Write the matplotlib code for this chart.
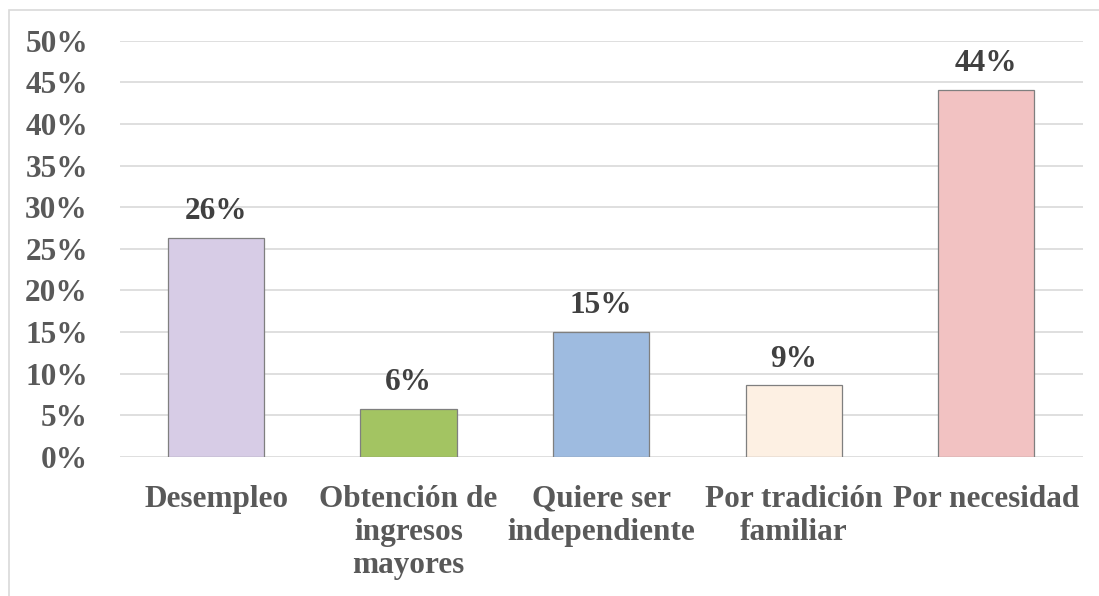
import matplotlib.pyplot as plt
from matplotlib.patches import Rectangle
from matplotlib.ticker import FuncFormatter

categorias = ['Desempleo', 'Obtención de\ningresos\nmayores', 'Quiere ser\nindependiente',
              'Por tradición\nfamiliar', 'Por necesidad']
valores = [0.263, 0.058, 0.150, 0.086, 0.441]
etiquetas = ['26%', '6%', '15%', '9%', '44%']
colores = ['#D7CCE6', '#A3C462', '#9EBBE0', '#FDF0E3', '#F2C2C2']

plt.rcParams['font.family'] = ['Liberation Serif', 'DejaVu Serif']
gris = '#595959'
fs = 22.5

fig = plt.figure(figsize=(10.99, 5.96), dpi=100)
fig.patches.append(Rectangle((0.008, -0.01), 1.0, 0.993, transform=fig.transFigure,
                             fill=False, edgecolor='#D9D9D9', linewidth=1.2))
ax = fig.add_axes([0.109, 0.233, 0.876, 0.699])

x = range(len(categorias))
bars = ax.bar(x, valores, width=0.5, color=colores, edgecolor='#7f7f7f', linewidth=0.9, zorder=3)

for b, t in zip(bars, etiquetas):
    ax.text(b.get_x() + b.get_width() / 2, b.get_height() + 0.014, t,
            ha='center', va='bottom', fontsize=fs, fontweight='bold', color='#404040')

ax.set_ylim(0, 0.5)
ax.set_xlim(-0.5, len(categorias) - 0.5)
ax.set_yticks([i * 0.05 for i in range(11)])
ax.yaxis.set_major_formatter(FuncFormatter(lambda v, p: '{:.0f}%'.format(v * 100)))
ax.grid(axis='y', color='#D9D9D9', linewidth=1.2, zorder=0)
ax.set_xticks(list(x))
ax.set_xticklabels(categorias, linespacing=1.18, va='top')

for s in ax.spines.values():
    s.set_visible(False)
ax.tick_params(axis='both', length=0, labelsize=fs, labelcolor=gris)
ax.tick_params(axis='y', pad=23)
ax.tick_params(axis='x', pad=20)
for lab in ax.get_xticklabels() + ax.get_yticklabels():
    lab.set_fontweight('bold')

fig.savefig('out.png', dpi=100)
